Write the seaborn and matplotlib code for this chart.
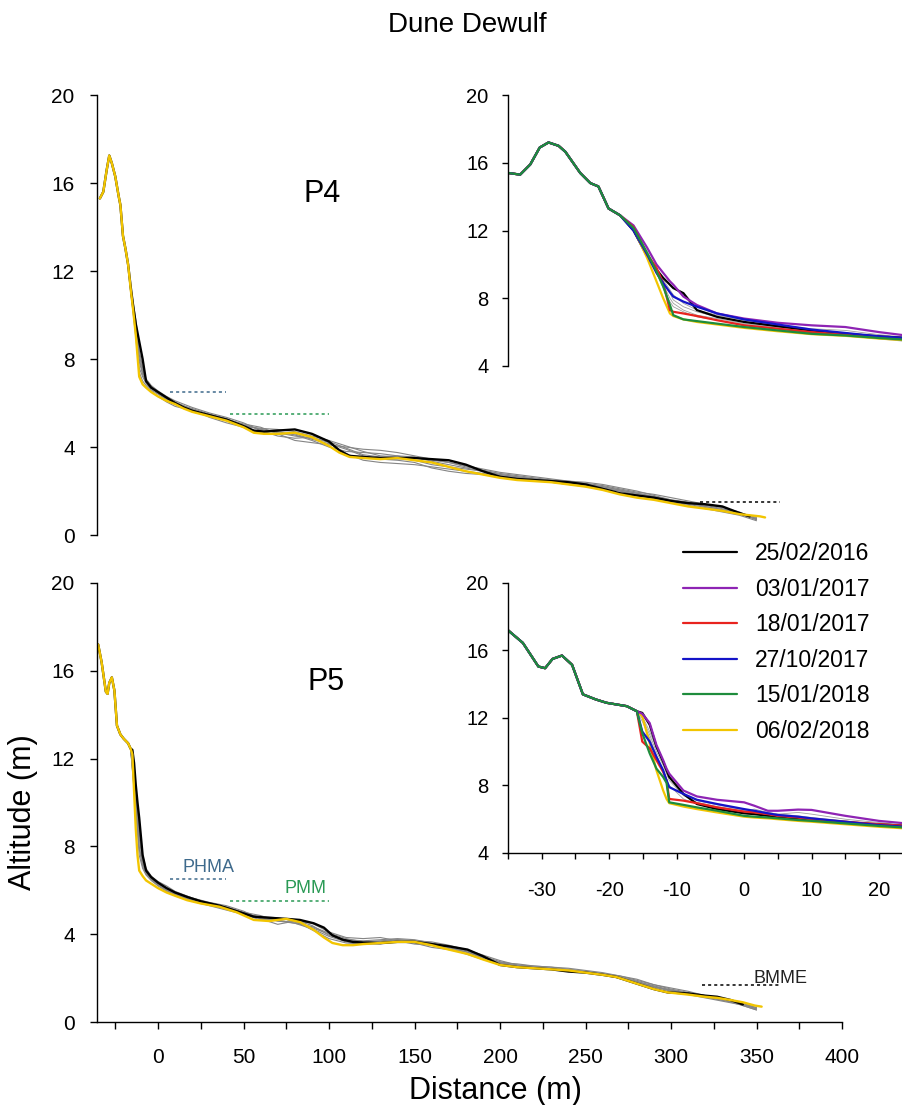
import matplotlib as mpl
import seaborn as sns
import pandas as pd
import numpy as np
plt = mpl.pyplot

sns.set_style('ticks')
mpl.rcParams['font.family'] = ['Liberation Sans', 'DejaVu Sans']
mpl.rcParams['axes.linewidth'] = 1.0
for k in ['text.color', 'axes.labelcolor', 'xtick.color', 'ytick.color', 'axes.edgecolor']:
    mpl.rcParams[k] = 'black'

# ---------------- data ----------------
dates = ['25/02/2016', '03/01/2017', '18/01/2017', '27/10/2017', '15/01/2018', '06/02/2018']
colors = ['#000000', '#8e24b4', '#e8231e', '#1414c8', '#1e8c3c', '#f2c500']

# P4 main profile (shared dune crest)
p4_dune_x = [-34, -32, -30, -28.5, -27, -25, -23, -22, -20.5, -19, -17.5]
p4_dune_z = [15.3, 15.6, 16.6, 17.25, 16.9, 16.3, 15.4, 15.0, 13.6, 13.0, 12.3]
p4_x = [-16, -14.5, -13, -11, -9, -7, -4, 0, 5, 10, 15, 20, 30, 40, 50, 56, 62, 70, 80,
        90, 100, 106, 112, 120, 130, 140, 150, 160, 170, 180, 190, 200, 210, 220, 230,
        240, 250, 260, 270, 280, 290, 300, 310, 320, 330, 340, 346, 352, 355]
p4_first = [11.3, 10.4, 9.6, 8.8, 8.0, 7.0, 6.7, 6.5, 6.25, 6.0, 5.8, 5.65, 5.45, 5.25, 4.95,
            4.75, 4.7, 4.75, 4.8, 4.6, 4.25, 3.85, 3.6, 3.55, 3.5, 3.5, 3.5, 3.45, 3.4, 3.2,
            2.9, 2.65, 2.55, 2.5, 2.45, 2.4, 2.3, 2.1, 1.9, 1.8, 1.7, 1.55, 1.45, 1.4, 1.3,
            1.0, 0.85]
p4_last = [11.2, 10.2, 9.1, 7.2, 6.85, 6.7, 6.5, 6.3, 6.1, 5.95, 5.75, 5.6, 5.4, 5.2, 4.9,
           4.65, 4.6, 4.6, 4.65, 4.45, 4.05, 3.75, 3.55, 3.5, 3.45, 3.5, 3.4, 3.3, 3.1, 2.9,
           2.75, 2.6, 2.5, 2.45, 2.4, 2.3, 2.2, 2.05, 1.85, 1.7, 1.6, 1.45, 1.3, 1.2, 1.1,
           0.95, 0.9, 0.85, 0.8]

# intermediate surveys (grey), shared x
grey_x = [-16, -13, -11, -9, -7, -4, 0, 5, 10, 20, 30, 40, 50, 60, 70, 80, 90, 100, 110, 120,
          130, 140, 150, 160, 170, 180, 190, 200, 210, 220, 230, 240, 250, 260, 270, 280, 290,
          300, 310, 320, 330, 340, 350]
p4_grey = [
    [11.2, 9.5, 8.0, 7.4, 7.0, 6.7, 6.45, 6.2, 6.0, 5.75, 5.5, 5.3, 5.0, 4.8, 4.7, 4.55, 4.3, 4.0, 3.8, 3.75, 3.7, 3.6, 3.4, 3.2, 3.1, 3.0, 2.9, 2.75, 2.65, 2.55, 2.45, 2.35, 2.3, 2.2, 2.05, 1.9, 1.75, 1.6, 1.45, 1.3, 1.15, 1.0, 0.75],
    [11.0, 9.2, 7.6, 7.2, 6.9, 6.6, 6.4, 6.15, 5.95, 5.6, 5.4, 5.25, 5.05, 4.9, 4.6, 4.3, 4.2, 4.1, 4.0, 3.9, 3.85, 3.75, 3.6, 3.45, 3.3, 3.1, 2.95, 2.8, 2.7, 2.6, 2.5, 2.45, 2.35, 2.25, 2.1, 1.95, 1.85, 1.7, 1.55, 1.4, 1.25, 1.05, 0.7],
    [11.3, 9.8, 8.4, 7.6, 7.1, 6.8, 6.55, 6.3, 6.1, 5.8, 5.55, 5.35, 5.1, 4.75, 4.5, 4.4, 4.45, 4.2, 3.7, 3.4, 3.3, 3.25, 3.2, 3.1, 3.0, 2.9, 2.8, 2.7, 2.6, 2.5, 2.4, 2.3, 2.2, 2.1, 2.0, 1.85, 1.7, 1.5, 1.35, 1.2, 1.05, 0.9, 0.65],
    [11.1, 9.0, 7.4, 7.0, 6.8, 6.55, 6.3, 6.05, 5.85, 5.65, 5.45, 5.2, 4.95, 4.85, 4.8, 4.7, 4.5, 4.3, 4.05, 3.8, 3.6, 3.55, 3.5, 3.4, 3.3, 3.15, 3.0, 2.85, 2.75, 2.65, 2.55, 2.45, 2.4, 2.3, 2.15, 2.0, 1.8, 1.6, 1.5, 1.35, 1.2, 1.0, 0.8],
    [11.2, 9.6, 8.2, 7.5, 7.05, 6.75, 6.5, 6.25, 6.05, 5.7, 5.35, 5.1, 4.9, 4.65, 4.6, 4.6, 4.35, 4.15, 3.9, 3.6, 3.45, 3.4, 3.3, 3.05, 2.9, 2.8, 2.75, 2.65, 2.55, 2.5, 2.4, 2.3, 2.25, 2.15, 2.0, 1.8, 1.65, 1.5, 1.4, 1.25, 1.1, 0.95, 0.7],
    [11.25, 9.4, 7.9, 7.3, 6.95, 6.7, 6.45, 6.2, 5.95, 5.7, 5.45, 5.25, 5.0, 4.8, 4.65, 4.5, 4.4, 4.25, 3.95, 3.65, 3.55, 3.6, 3.55, 3.35, 3.2, 3.05, 2.9, 2.75, 2.65, 2.55, 2.5, 2.4, 2.3, 2.2, 2.05, 1.9, 1.75, 1.55, 1.45, 1.3, 1.15, 0.95, 0.75],
]

# P5 main profile
p5_dune_x = [-35, -33, -30.5, -29.5, -28.5, -27, -25.5, -24, -22, -20, -17.5, -16]
p5_dune_z = [17.2, 16.4, 15.05, 14.95, 15.45, 15.7, 15.1, 13.5, 13.1, 12.9, 12.7, 12.45]
p5_x = [-15, -14, -13, -12, -11, -9, -7, -4, 0, 5, 10, 17, 25, 36, 46, 56, 65, 75, 83, 91,
        97, 102, 108, 114, 120, 130, 140, 150, 160, 170, 181, 190, 200, 210, 220, 230, 240,
        250, 260, 268, 280, 290, 298, 310, 320, 327, 335, 342, 349, 353]
p5_first = [12.4, 11.8, 10.8, 10.0, 9.3, 7.6, 6.9, 6.6, 6.35, 6.1, 5.9, 5.7, 5.5, 5.3, 5.05,
            4.8, 4.75, 4.7, 4.65, 4.5, 4.3, 3.95, 3.75, 3.65, 3.62, 3.6, 3.65, 3.65, 3.55,
            3.45, 3.3, 3.0, 2.6, 2.5, 2.45, 2.4, 2.3, 2.25, 2.15, 2.05, 1.75, 1.5, 1.35, 1.3,
            1.2, 1.15, 1.0, 0.8]
p5_last = [12.2, 10.5, 8.8, 7.6, 6.9, 6.65, 6.45, 6.3, 6.1, 5.9, 5.75, 5.55, 5.4, 5.25, 5.0,
           4.65, 4.6, 4.7, 4.55, 4.2, 3.85, 3.6, 3.5, 3.5, 3.55, 3.6, 3.65, 3.65, 3.5, 3.3,
           3.1, 2.85, 2.6, 2.5, 2.45, 2.4, 2.35, 2.25, 2.15, 2.05, 1.75, 1.5, 1.35, 1.25,
           1.15, 1.1, 1.0, 0.9, 0.75, 0.7]
p5_grey = [
    [12.45, 10.2, 8.4, 7.3, 6.85, 6.55, 6.3, 6.05, 5.85, 5.6, 5.4, 5.2, 4.95, 4.75, 4.6, 4.55, 4.3, 4.0, 3.75, 3.7, 3.75, 3.8, 3.75, 3.6, 3.45, 3.25, 3.0, 2.75, 2.6, 2.5, 2.45, 2.4, 2.3, 2.2, 2.05, 1.85, 1.65, 1.45, 1.3, 1.15, 1.0, 0.85, 0.6],
    [12.45, 9.6, 7.6, 7.0, 6.7, 6.45, 6.2, 5.95, 5.8, 5.5, 5.3, 5.1, 4.9, 4.8, 4.75, 4.6, 4.2, 3.8, 3.6, 3.55, 3.6, 3.7, 3.6, 3.4, 3.3, 3.2, 2.95, 2.7, 2.55, 2.45, 2.4, 2.3, 2.25, 2.15, 2.0, 1.8, 1.6, 1.4, 1.25, 1.1, 0.95, 0.8, 0.55],
    [12.45, 10.6, 8.8, 7.6, 7.0, 6.65, 6.4, 6.2, 5.95, 5.65, 5.45, 5.3, 5.05, 4.7, 4.45, 4.6, 4.5, 4.1, 3.85, 3.8, 3.85, 3.7, 3.55, 3.5, 3.4, 3.2, 2.9, 2.7, 2.65, 2.55, 2.5, 2.45, 2.35, 2.25, 2.1, 1.9, 1.7, 1.55, 1.4, 1.2, 1.05, 0.9, 0.65],
    [12.45, 9.9, 8.0, 7.2, 6.8, 6.5, 6.25, 6.0, 5.8, 5.55, 5.35, 5.15, 4.9, 4.65, 4.7, 4.65, 4.4, 3.95, 3.7, 3.6, 3.65, 3.75, 3.7, 3.55, 3.35, 3.1, 2.85, 2.65, 2.55, 2.5, 2.4, 2.35, 2.3, 2.2, 2.05, 1.85, 1.6, 1.45, 1.3, 1.15, 1.0, 0.85, 0.6],
    [12.45, 10.4, 8.6, 7.45, 6.95, 6.6, 6.35, 6.1, 5.9, 5.65, 5.4, 5.25, 5.0, 4.85, 4.6, 4.5, 4.35, 4.05, 3.8, 3.65, 3.7, 3.75, 3.7, 3.65, 3.5, 3.3, 3.05, 2.8, 2.6, 2.55, 2.5, 2.4, 2.3, 2.2, 2.1, 1.95, 1.7, 1.5, 1.35, 1.2, 1.05, 0.9, 0.65],
    [12.45, 9.8, 7.9, 7.1, 6.75, 6.5, 6.25, 6.0, 5.8, 5.55, 5.35, 5.15, 4.95, 4.7, 4.65, 4.5, 4.25, 3.9, 3.65, 3.55, 3.55, 3.65, 3.65, 3.55, 3.4, 3.2, 2.95, 2.7, 2.55, 2.45, 2.4, 2.35, 2.25, 2.15, 2.0, 1.8, 1.6, 1.45, 1.3, 1.15, 1.0, 0.8, 0.55],
]

# zoom on P4 dune front
z4_dune_x = [-35, -33.2, -31.7, -30.3, -29, -27.5, -26.5, -24.3, -22.8, -21.6, -20.1, -18.4]
z4_dune_z = [15.4, 15.3, 15.9, 16.9, 17.2, 17.0, 16.65, 15.4, 14.8, 14.6, 13.3, 12.9]
z4_x = [-16.4, -14.4, -13, -12, -11, -10.5, -9, -7, -4, 0, 5, 10, 15, 20, 24]
z4_tail = {
    '25/02/2016': [12.0, 10.5, 9.7, 9.2, 8.8, 8.6, 8.3, 7.3, 6.9, 6.6, 6.35, 6.1, 5.9, 5.75, 5.65],
    '03/01/2017': [12.3, 11.0, 10.0, 9.5, 9.0, 8.8, 8.1, 7.6, 7.1, 6.8, 6.55, 6.4, 6.3, 6.0, 5.8],
    '18/01/2017': [12.2, 10.6, 9.8, 8.9, 7.3, 7.2, 7.1, 6.95, 6.7, 6.4, 6.2, 6.0, 5.85, 5.7, 5.6],
    '27/10/2017': [12.0, 10.6, 9.5, 8.9, 8.35, 8.1, 7.8, 7.5, 7.1, 6.75, 6.45, 6.15, 5.95, 5.75, 5.65],
    '15/01/2018': [12.15, 10.7, 9.6, 8.7, 7.6, 7.0, 6.75, 6.65, 6.5, 6.3, 6.1, 5.9, 5.8, 5.65, 5.55],
    '06/02/2018': [12.1, 10.4, 9.0, 8.0, 7.1, 6.95, 6.75, 6.6, 6.45, 6.25, 6.05, 5.88, 5.78, 5.62, 5.52],
}
z4_grey = [
    [12.1, 10.6, 9.7, 9.0, 8.3, 7.9, 7.5, 7.2, 6.9, 6.6, 6.3, 6.05, 5.9, 5.7, 5.6],
    [12.1, 10.5, 9.6, 8.8, 8.0, 7.7, 7.3, 7.0, 6.8, 6.5, 6.25, 6.0, 5.85, 5.65, 5.5],
    [12.2, 10.7, 9.8, 9.1, 8.5, 8.2, 7.7, 7.3, 7.0, 6.7, 6.4, 6.2, 6.1, 5.85, 5.7],
    [12.1, 10.5, 9.5, 8.6, 7.8, 7.5, 7.2, 6.9, 6.7, 6.45, 6.2, 5.95, 5.8, 5.6, 5.45],
]

# zoom on P5 dune front
z5_dune_x = [-35, -32.8, -30.5, -29.5, -28.4, -27, -25.5, -23.9, -22, -20.4, -17.4, -15.9]
z5_dune_z = [17.2, 16.45, 15.05, 14.95, 15.5, 15.7, 15.15, 13.4, 13.1, 12.9, 12.7, 12.4]
z5_x = [-15.1, -14, -13, -12, -11.5, -11.1, -9, -7, -4, 0, 1.5, 3.5, 5, 8, 10, 15, 20, 24]
z5_tail = {
    '25/02/2016': [12.3, 11.6, 10.3, 9.4, 8.9, 8.5, 7.5, 6.9, 6.6, 6.35, 6.3, 6.2, 6.1, 6.0, 5.9, 5.8, 5.7, 5.6],
    '03/01/2017': [12.25, 11.7, 10.4, 9.5, 9.0, 8.7, 7.7, 7.35, 7.15, 7.0, 6.8, 6.5, 6.5, 6.57, 6.55, 6.2, 5.9, 5.75],
    '18/01/2017': [10.6, 10.2, 9.5, 8.8, 8.3, 7.2, 7.1, 6.95, 6.7, 6.45, 6.4, 6.3, 6.2, 6.1, 6.0, 5.85, 5.7, 5.6],
    '27/10/2017': [11.2, 10.6, 9.7, 8.9, 8.3, 7.9, 7.5, 7.15, 6.9, 6.6, 6.5, 6.35, 6.25, 6.15, 6.05, 5.85, 5.65, 5.55],
    '15/01/2018': [11.1, 9.9, 9.0, 8.5, 8.15, 7.0, 6.85, 6.7, 6.5, 6.2, 6.15, 6.1, 6.05, 5.95, 5.9, 5.75, 5.6, 5.5],
    '06/02/2018': [12.1, 10.5, 8.9, 7.7, 7.2, 6.95, 6.75, 6.6, 6.4, 6.15, 6.1, 6.05, 6.0, 5.9, 5.85, 5.7, 5.55, 5.45],
}
z5_grey = [
    [12.0, 11.0, 10.0, 9.2, 8.7, 8.3, 7.4, 7.0, 6.75, 6.5, 6.45, 6.35, 6.25, 6.1, 6.0, 5.8, 5.65, 5.55],
    [11.8, 10.8, 9.8, 8.9, 8.4, 8.0, 7.2, 6.9, 6.7, 6.45, 6.6, 6.4, 6.3, 6.4, 6.3, 6.0, 5.8, 5.65],
    [12.1, 11.2, 10.2, 9.4, 8.9, 8.5, 7.5, 7.1, 6.85, 6.55, 6.5, 6.4, 6.3, 6.2, 6.1, 5.9, 5.7, 5.6],
]

# reference levels
phma, pmm, bmme = 6.5, 5.5, 1.5


def draw(ax, x, z, color, lw):
    sns.lineplot(x=x, y=z, ax=ax, color=color, lw=lw, estimator=None, sort=False, legend=False)


fig = plt.figure(figsize=(9.02, 11.05), dpi=100)
ax4 = fig.add_axes([0.1075, 0.5158, 0.826, 0.3982])
ax5 = fig.add_axes([0.1075, 0.0751, 0.826, 0.3973])
in4 = fig.add_axes([0.5632, 0.6688, 0.4368, 0.2452], facecolor='none')
in5 = fig.add_axes([0.5632, 0.2281, 0.4368, 0.2443], facecolor='none')

grey = '#858585'

# main panels
for ax, dx, dz, px, first, last, gz, bx, byy in [
        (ax4, p4_dune_x, p4_dune_z, p4_x, p4_first, p4_last, p4_grey, (317, 364), bmme),
        (ax5, p5_dune_x, p5_dune_z, p5_x, p5_first, p5_last, p5_grey, (318, 364), 1.7)]:
    for g in gz:
        draw(ax, [dx[-1]] + grey_x, [dz[-1]] + g, grey, 0.8)
    draw(ax, dx + px[:len(first)], dz + first, colors[0], 1.7)
    draw(ax, dx + px, dz + last, colors[5], 1.7)
    ax.plot([7, 40], [phma, phma], ls=(0, (2, 2)), color='#3e6a8c', lw=1.1)
    ax.plot([42, 100], [pmm, pmm], ls=(0, (2, 2)), color='#2a9a55', lw=1.1)
    ax.plot(list(bx), [byy, byy], ls=(0, (2, 2)), color='black', lw=1.1)
    ax.set_xlim(-35.7, 400)
    ax.set_ylim(0, 20)
    ax.set_yticks([0, 4, 8, 12, 16, 20])
    ax.tick_params(axis='both', direction='out', length=5, width=1, labelsize=15, pad=11)
    ax.set_xlabel('')
    ax.set_ylabel('')
    sns.despine(ax=ax)

ax4.spines['bottom'].set_visible(False)
ax4.set_xticks([])
xt = np.arange(-25, 401, 25)
ax5.set_xticks(xt)
ax5.set_xticklabels([str(v) if v % 50 == 0 and v >= 0 else '' for v in xt])
ax5.tick_params(axis='x', pad=14)

ax4.text(96, 15.5, 'P4', fontsize=22, ha='center', va='center')
ax5.text(98, 15.5, 'P5', fontsize=22, ha='center', va='center')
ax5.text(14.5, 6.65, 'PHMA', fontsize=13, color='#3e6a8c', va='bottom')
ax5.text(74, 5.7, 'PMM', fontsize=13, color='#2a9a55', va='bottom')
ax5.text(348, 1.6, 'BMME', fontsize=13, color='#222222', va='bottom')

# insets
order = [0, 5, 1, 2, 3, 4]
for ax, dx, dz, tx, tails, gz in [(in4, z4_dune_x, z4_dune_z, z4_x, z4_tail, z4_grey),
                                  (in5, z5_dune_x, z5_dune_z, z5_x, z5_tail, z5_grey)]:
    for g in gz:
        draw(ax, dx + tx, dz + g, '#a0a0a0', 0.6)
    for i in order:
        draw(ax, dx + tx, dz + tails[dates[i]], colors[i], 1.6)
    ax.set_xlim(-35, 23.4)
    ax.set_ylim(4, 20)
    ax.set_yticks([4, 8, 12, 16, 20])
    ax.tick_params(axis='both', direction='out', length=4, width=1, labelsize=14.5, pad=10)
    ax.set_xlabel('')
    ax.set_ylabel('')
    sns.despine(ax=ax)

in4.spines['bottom'].set_visible(False)
in4.set_xticks([])
it = np.arange(-35, 24, 5)
in5.set_xticks(it)
in5.set_xticklabels([str(v) if v % 10 == 0 else '' for v in it])
in5.tick_params(axis='x', pad=16)

handles = [mpl.lines.Line2D([], [], color=c, lw=1.6) for c in colors]
fig.legend(handles, dates, loc='upper left', bbox_to_anchor=(0.757, 0.5095), frameon=False,
           fontsize=16.5, handlelength=2.35, handletextpad=0.8, labelspacing=0.55,
           borderpad=0, borderaxespad=0)

fig.text(0.518, 0.977, 'Dune Dewulf', fontsize=20, ha='center', va='center')
fig.text(0.026, 0.265, 'Altitude (m)', fontsize=22, rotation=90, ha='center', va='center')
fig.text(0.549, 0.013, 'Distance (m)', fontsize=22, ha='center', va='center')

fig.savefig('out.png', dpi=100)
